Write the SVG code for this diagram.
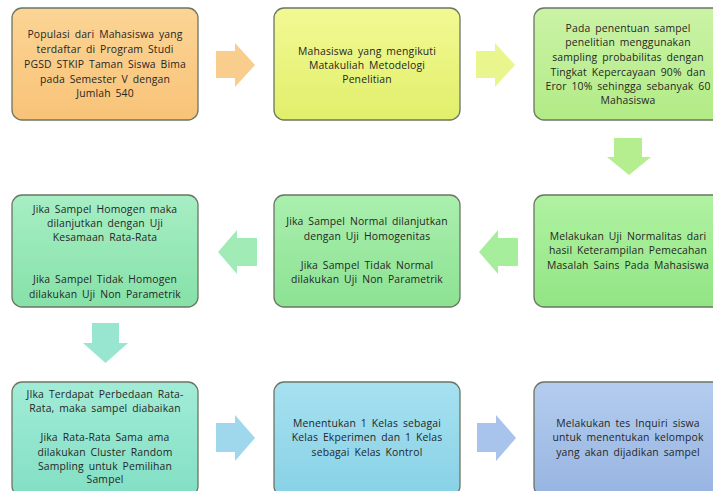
<svg xmlns="http://www.w3.org/2000/svg" width="713" height="491" viewBox="0 0 713 491">
<defs>
<linearGradient id="g1" x1="0" y1="0" x2="0" y2="1"><stop offset="0" stop-color="#FCD495"/><stop offset="1" stop-color="#F8C378"/></linearGradient>
<linearGradient id="g2" x1="0" y1="0" x2="0" y2="1"><stop offset="0" stop-color="#F2F993"/><stop offset="1" stop-color="#E1EF6B"/></linearGradient>
<linearGradient id="g3" x1="0" y1="0" x2="0" y2="1"><stop offset="0" stop-color="#CBF3A6"/><stop offset="1" stop-color="#B2EB86"/></linearGradient>
<linearGradient id="g6" x1="0" y1="0" x2="0" y2="1"><stop offset="0" stop-color="#B0F2A2"/><stop offset="1" stop-color="#92E584"/></linearGradient>
<linearGradient id="g5" x1="0" y1="0" x2="0" y2="1"><stop offset="0" stop-color="#AAEFAE"/><stop offset="1" stop-color="#8CE293"/></linearGradient>
<linearGradient id="g4" x1="0" y1="0" x2="0" y2="1"><stop offset="0" stop-color="#A7EEC4"/><stop offset="1" stop-color="#86E1A8"/></linearGradient>
<linearGradient id="g7" x1="0" y1="0" x2="0" y2="1"><stop offset="0" stop-color="#A2ECD7"/><stop offset="1" stop-color="#82DFC3"/></linearGradient>
<linearGradient id="g8" x1="0" y1="0" x2="0" y2="1"><stop offset="0" stop-color="#A6E1F0"/><stop offset="1" stop-color="#88D1E6"/></linearGradient>
<linearGradient id="g9" x1="0" y1="0" x2="0" y2="1"><stop offset="0" stop-color="#B4CDEF"/><stop offset="1" stop-color="#97B4E1"/></linearGradient>
</defs>
<style>
.box{stroke:#6b7563;stroke-width:1.3}
.t{font-family:"Open Sans","Liberation Sans",sans-serif;font-size:10.4px;fill:#262626;text-anchor:middle;letter-spacing:0.15px;word-spacing:2px}
.arr{stroke:none}
</style>
<rect width="713" height="491" fill="#ffffff"/>

<g id="node1">
<rect class="box" x="12" y="8" width="186" height="112" rx="10" fill="url(#g1)"/>
<text class="t" x="105" y="38">Populasi dari Mahasiswa yang</text>
<text class="t" x="105" y="53">terdaftar di Program Studi</text>
<text class="t" x="105" y="68">PGSD STKIP Taman Siswa Bima</text>
<text class="t" x="105" y="83">pada Semester V dengan</text>
<text class="t" x="105" y="97">Jumlah 540</text>
</g>
<g id="node2">
<rect class="box" x="274" y="8" width="186" height="112" rx="10" fill="url(#g2)"/>
<text class="t" x="367" y="55">Mahasiswa yang mengikuti</text>
<text class="t" x="367" y="69">Matakuliah Metodelogi</text>
<text class="t" x="367" y="83">Penelitian</text>
</g>
<g id="node3">
<rect class="box" x="534" y="8" width="190" height="112" rx="10" fill="url(#g3)"/>
<text class="t" x="628" y="32">Pada penentuan sampel</text>
<text class="t" x="628" y="46">penelitian menggunakan</text>
<text class="t" x="628" y="61">sampling probabilitas dengan</text>
<text class="t" x="628" y="76">Tingkat Kepercayaan 90% dan</text>
<text class="t" x="628" y="90">Eror 10% sehingga sebanyak 60</text>
<text class="t" x="628" y="104">Mahasiswa</text>
</g>
<g id="node6">
<rect class="box" x="534" y="195" width="190" height="112" rx="10" fill="url(#g6)"/>
<text class="t" x="628" y="240">Melakukan Uji Normalitas dari</text>
<text class="t" x="628" y="254">hasil Keterampilan Pemecahan</text>
<text class="t" x="628" y="269">Masalah Sains Pada Mahasiswa</text>
</g>
<g id="node5">
<rect class="box" x="274" y="195" width="186" height="112" rx="10" fill="url(#g5)"/>
<text class="t" x="367" y="225">Jika Sampel Normal dilanjutkan</text>
<text class="t" x="367" y="240">dengan Uji Homogenitas</text>
<text class="t" x="367" y="269">Jika Sampel Tidak Normal</text>
<text class="t" x="367" y="283">dilakukan Uji Non Parametrik</text>
</g>
<g id="node4">
<rect class="box" x="12" y="195" width="186" height="112" rx="10" fill="url(#g4)"/>
<text class="t" x="105" y="213">Jika Sampel Homogen maka</text>
<text class="t" x="105" y="227">dilanjutkan dengan Uji</text>
<text class="t" x="105" y="241">Kesamaan Rata-Rata</text>
<text class="t" x="105" y="283">Jika Sampel Tidak Homogen</text>
<text class="t" x="105" y="298">dilakukan Uji Non Parametrik</text>
</g>
<g id="node7">
<rect class="box" x="12" y="382" width="186" height="114" rx="10" fill="url(#g7)"/>
<text class="t" x="105" y="398">JIka Terdapat Perbedaan Rata-</text>
<text class="t" x="105" y="412">Rata, maka sampel diabaikan</text>
<text class="t" x="105" y="441">Jika Rata-Rata Sama ama</text>
<text class="t" x="105" y="456">dilakukan Cluster Random</text>
<text class="t" x="105" y="470">Sampling untuk Pemilihan</text>
<text class="t" x="105" y="483">Sampel</text>
</g>
<g id="node8">
<rect class="box" x="274" y="382" width="186" height="114" rx="10" fill="url(#g8)"/>
<text class="t" x="367" y="427">Menentukan 1 Kelas sebagai</text>
<text class="t" x="367" y="441">Kelas Ekperimen dan 1 Kelas</text>
<text class="t" x="367" y="456">sebagai Kelas Kontrol</text>
</g>
<g id="node9">
<rect class="box" x="534" y="382" width="190" height="114" rx="10" fill="url(#g9)"/>
<text class="t" x="628" y="427">Melakukan tes Inquiri siswa</text>
<text class="t" x="628" y="441">untuk menentukan kelompok</text>
<text class="t" x="628" y="456">yang akan dijadikan sampel</text>
</g>

<g id="connectors">
<polygon class="arr" fill="#F9CE8C" points="216,51 235,51 235,43 255,65 235,87 235,78 216,78"/>
<polygon class="arr" fill="#E9F68E" points="476,51 495,51 495,43 515,65 495,87 495,78 476,78"/>
<polygon class="arr" fill="#B4EE8E" points="614,138 642,138 642,157 651,157 629,175 607,157 614,157"/>
<polygon class="arr" fill="#A6EE9C" points="518,238 498,238 498,230 479,252 498,274 498,266 518,266"/>
<polygon class="arr" fill="#A0EBB6" points="257,238 237,238 237,230 218,252 237,274 237,266 257,266"/>
<polygon class="arr" fill="#99E6D0" points="92,323 119,323 119,343 128,343 105.5,363 83,343 92,343"/>
<polygon class="arr" fill="#9FD8EC" points="216,423 235,423 235,415 255,438 235,461 235,452 216,452"/>
<polygon class="arr" fill="#A8C3EC" points="477,423 496,423 496,415 516,438 496,461 496,452 477,452"/>
</g>
</svg>
